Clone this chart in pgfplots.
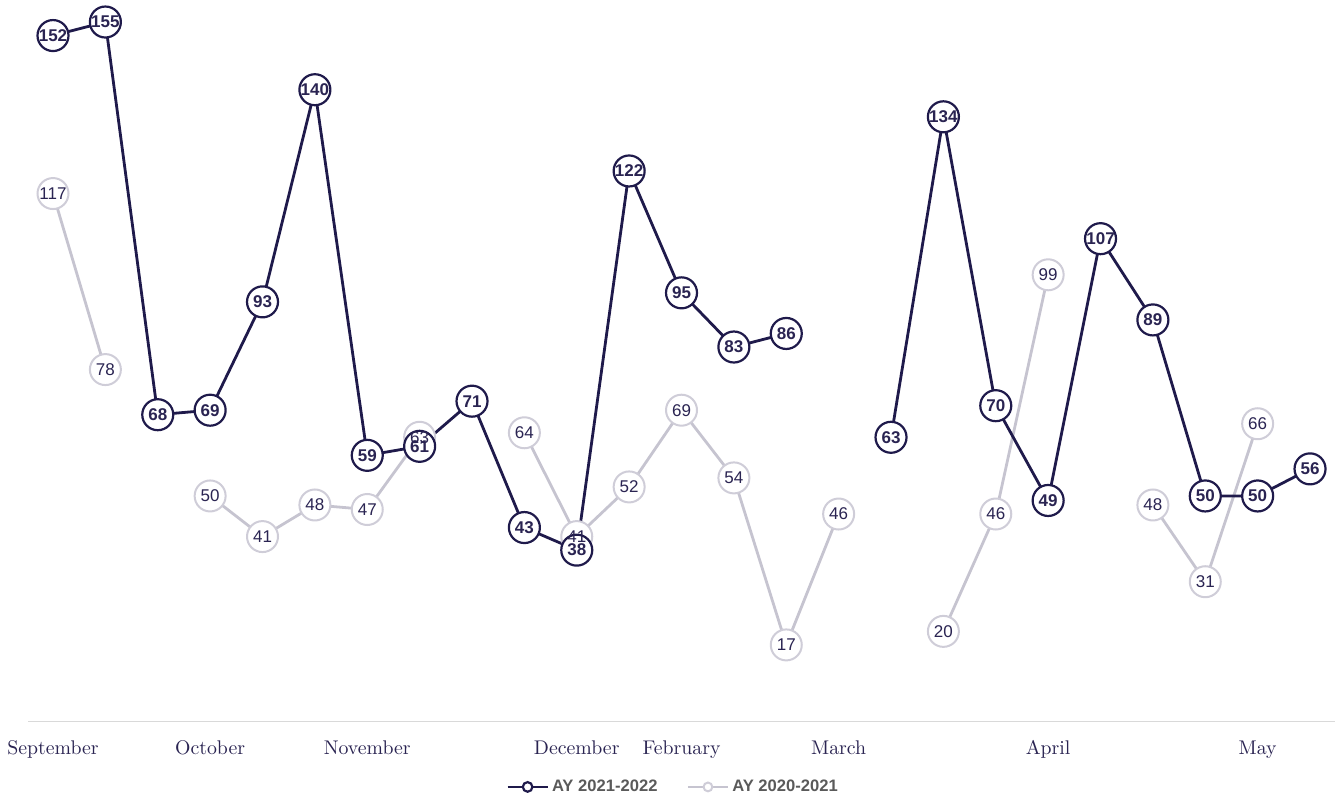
\documentclass[border=0pt]{standalone}
\usepackage{fontspec}
\usepackage{pgfplots}
\pgfplotsset{compat=1.18}
\newfontfamily\labelfont{Liberation Sans}
\definecolor{navy}{HTML}{1F1A4B}
\definecolor{navytext}{HTML}{2A2452}
\definecolor{lightline}{HTML}{C6C4D0}
\definecolor{lightcirc}{HTML}{CFCDD8}
\definecolor{legtext}{HTML}{5A5A5A}
\begin{document}
\begin{tikzpicture}
\begin{axis}[
  scale only axis,
  width=653.5pt, height=361.1pt,
  xmin=-0.477, xmax=24.477,
  ymin=0, ymax=160,
  clip=false,
  /pgf/number format/assume math mode=true,
  axis x line=bottom,
  axis y line=none,
  x axis line style={-, draw=black!15, line width=0.8pt},
  major tick length=0pt,
  xtick={0,3,6,10,12,15,19,23},
  xticklabels={September,October,November,December,February,March,April,May},
  xticklabel style={anchor=base, yshift=-16.6pt, font=\fontsize{9.9}{12}\selectfont, text=navytext},
  ytick=\empty,
  unbounded coords=jump,
  legend style={at={(0.4939,-0.0904)}, anchor=center, draw=none, fill=none,
    legend columns=2, font=\labelfont\bfseries\fontsize{8.3}{10}\selectfont,
    text=legtext, nodes={inner sep=1.5pt},
    /tikz/every even column/.append style={column sep=13pt}},
  legend cell align=left,
  reverse legend,
  legend image code/.code={\draw[mark repeat=2,mark phase=2,#1] plot coordinates {(0pt,0pt) (10pt,0pt) (20pt,0pt)};},
]
% light series AY 2020-2021
\addplot[color=lightline, line width=1.4pt, mark=*, mark size=7.75pt,
  mark options={fill=white, draw=lightcirc, line width=1pt},
  legend image post style={mark size=2.2pt}]
coordinates {
(0,117) (1,78) (2,nan) (3,50) (4,41) (5,48) (6,47) (7,63) (8,nan)
(9,64) (10,41) (11,52) (12,69) (13,54) (14,17) (15,46) (16,nan)
(17,20) (18,46) (19,99) (20,nan) (21,48) (22,31) (23,66)
};
\addlegendentry{AY 2020-2021}
% dark series AY 2021-2022
\addplot[color=navy, line width=1.4pt, mark=*, mark size=7.75pt,
  mark options={fill=white, draw=navy, line width=1.1pt},
  legend image post style={mark size=2.4pt}]
coordinates {
(0,152) (1,155) (2,68) (3,69) (4,93) (5,140) (6,59) (7,61) (8,71)
(9,43) (10,38) (11,122) (12,95) (13,83) (14,86) (15,nan)
(16,63) (17,134) (18,70) (19,49) (20,107) (21,89) (22,50) (23,50) (24,56)
};
\addlegendentry{AY 2021-2022}
% labels light
\addplot[draw=none, mark=none, forget plot,
  nodes near coords={\pgfmathprintnumber{\pgfplotspointmeta}},
  every node near coord/.append style={anchor=center, inner sep=0pt, font=\labelfont\fontsize{8.5}{10}\selectfont, text=navytext}]
coordinates {
(0,117) (1,78) (3,50) (4,41) (5,48) (6,47) (7,63)
(9,64) (10,41) (11,52) (12,69) (13,54) (14,17) (15,46)
(17,20) (18,46) (19,99) (21,48) (22,31) (23,66)
};
% labels dark
\addplot[draw=none, mark=none, forget plot,
  nodes near coords={\pgfmathprintnumber{\pgfplotspointmeta}},
  every node near coord/.append style={anchor=center, inner sep=0pt, font=\labelfont\bfseries\fontsize{8.5}{10}\selectfont, text=navytext}]
coordinates {
(0,152) (1,155) (2,68) (3,69) (4,93) (5,140) (6,59) (7,61) (8,71)
(9,43) (10,38) (11,122) (12,95) (13,83) (14,86)
(16,63) (17,134) (18,70) (19,49) (20,107) (21,89) (22,50) (23,50) (24,56)
};
\coordinate (bbll) at (axis cs:-1.012,-16.46);
\coordinate (bbur) at (axis cs:24.515,159.88);
\end{axis}
\pgfresetboundingbox
\path[use as bounding box] (bbll) rectangle (bbur);
\end{tikzpicture}
\end{document}
